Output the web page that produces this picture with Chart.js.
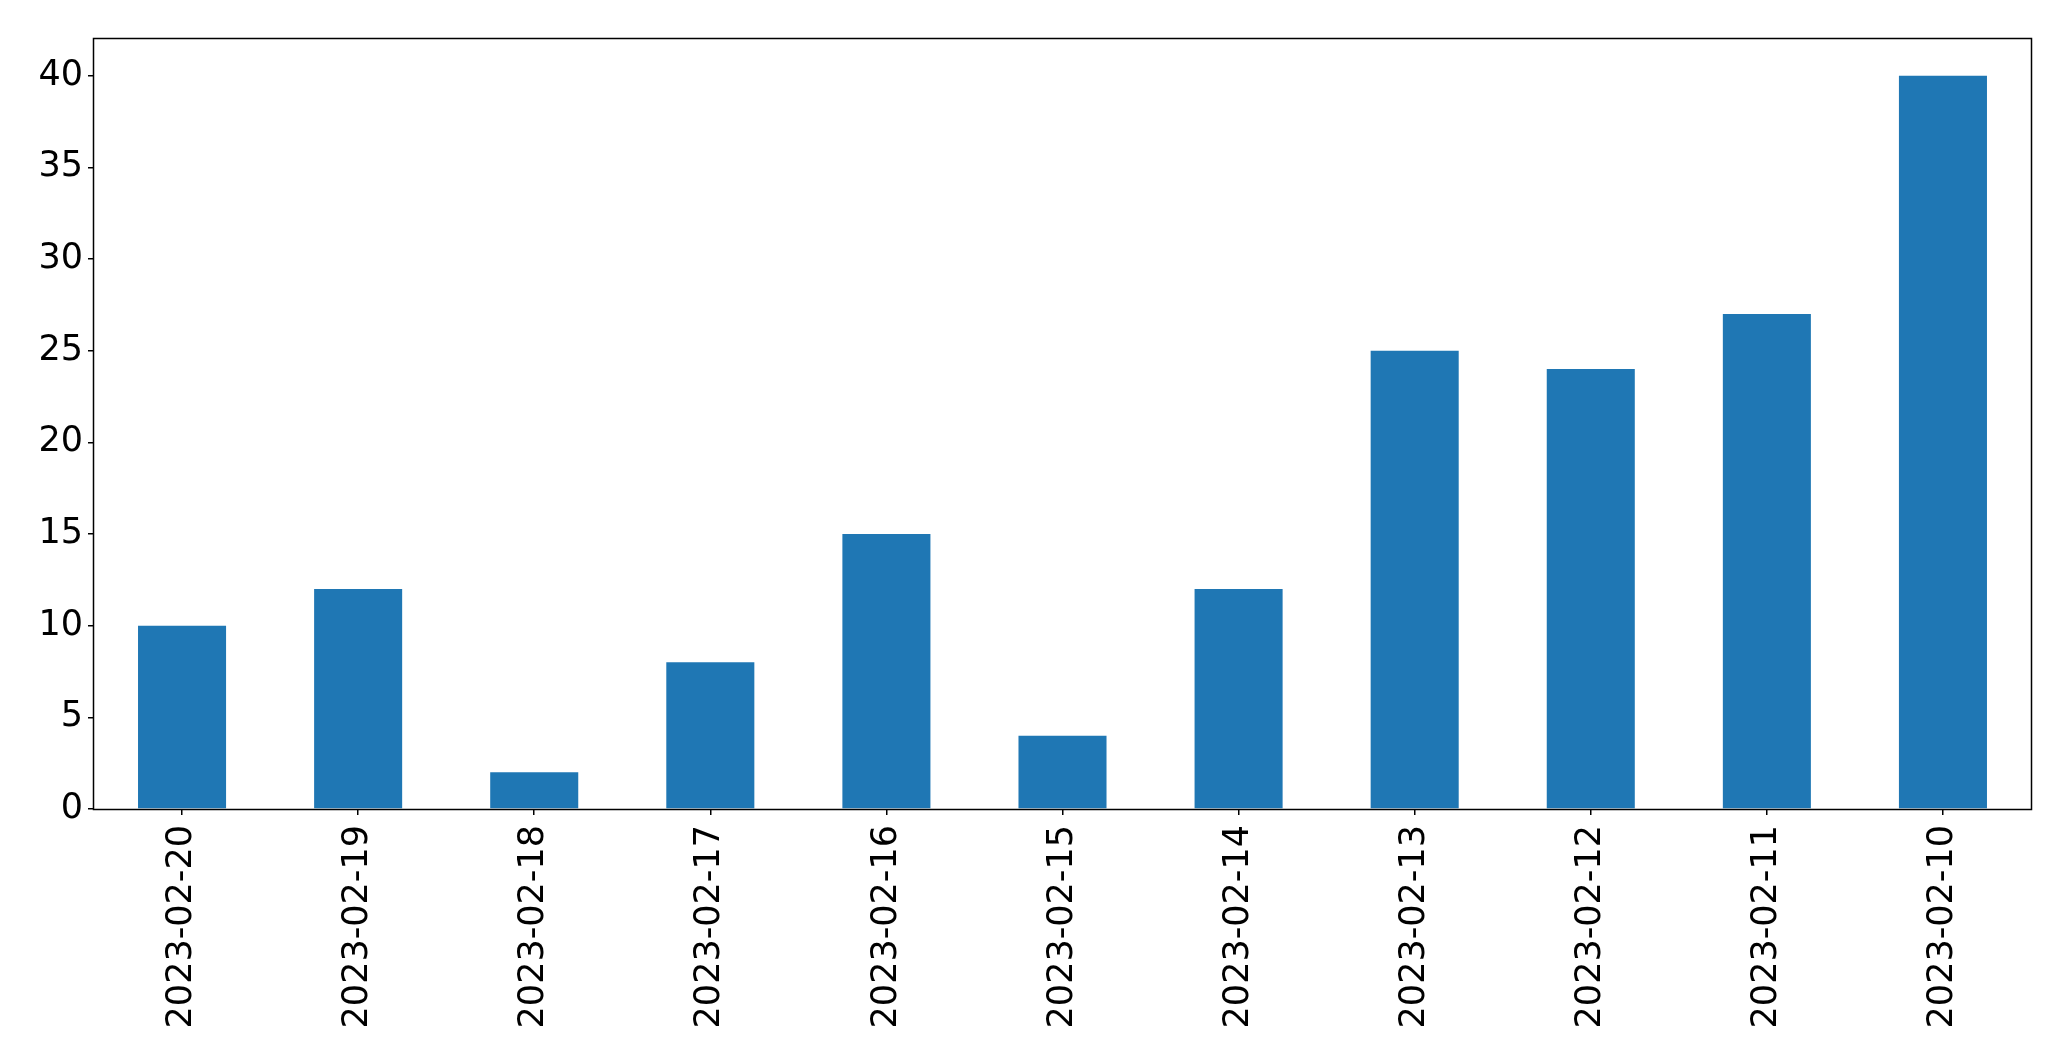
<!DOCTYPE html>
<html>
<head>
<meta charset="utf-8">
<script src="https://cdn.jsdelivr.net/npm/chart.js@4"></script>
<style>
	html, body { margin: 0; padding: 0; background: #fff; }
	canvas { display: block; }
</style>
</head>
<body>
<canvas id="chart" width="2071" height="1061"></canvas>
<script>
const dates = [
	"2023-02-20",
	"2023-02-19",
	"2023-02-18",
	"2023-02-17",
	"2023-02-16",
	"2023-02-15",
	"2023-02-14",
	"2023-02-13",
	"2023-02-12",
	"2023-02-11",
	"2023-02-10",
];
const counts = [10, 12, 2, 8, 15, 4, 12, 25, 24, 27, 40];
const yTicks = [0, 5, 10, 15, 20, 25, 30, 35, 40];

// frame around the plot area, like a matplotlib axes box
const frame = {
	id: "frame",
	afterDatasetsDraw(chart) {
		const { ctx, chartArea: a } = chart;
		const l = Math.round(a.left) - 0.5;
		const t = Math.round(a.top) - 0.5;
		const r = Math.round(a.right) + 0.5;
		const b = Math.round(a.bottom) + 0.5;
		ctx.save();
		ctx.strokeStyle = "#000";
		ctx.lineWidth = 1.5;
		ctx.strokeRect(l, t, r - l, b - t);
		ctx.restore();
	},
};

const tickFont = { family: "'DejaVu Sans'", size: 35 };

new Chart(document.getElementById("chart"), {
	type: "bar",
	data: {
		labels: dates,
		datasets: [
			{
				data: counts,
				backgroundColor: "#1f77b4",
				borderWidth: 0,
				barPercentage: 0.5,
				categoryPercentage: 1,
			},
		],
	},
	options: {
		responsive: false,
		animation: false,
		layout: { padding: { top: 39, right: 40, left: 0, bottom: 0 } },
		plugins: {
			legend: { display: false },
			tooltip: { enabled: false },
		},
		scales: {
			x: {
				offset: true,
				grid: { drawOnChartArea: false, drawTicks: true, tickLength: 6, color: "#000", lineWidth: 1.5, offset: false },
				border: { display: false },
				ticks: {
					color: "#000",
					font: tickFont,
					minRotation: 90,
					maxRotation: 90,
					autoSkip: false,
					padding: 10,
				},
				afterFit(scale) {
					scale.height = 252;
				},
			},
			y: {
				min: 0,
				max: 42,
				grid: { drawOnChartArea: false, drawTicks: true, tickLength: 6, color: "#000", lineWidth: 1.5 },
				border: { display: false },
				ticks: { color: "#000", font: tickFont, padding: 5 },
				afterBuildTicks(scale) {
					scale.ticks = yTicks.map((v) => ({ value: v }));
				},
				afterFit(scale) {
					scale.width = 94;
				},
			},
		},
	},
	plugins: [frame],
});
</script>
</body>
</html>
